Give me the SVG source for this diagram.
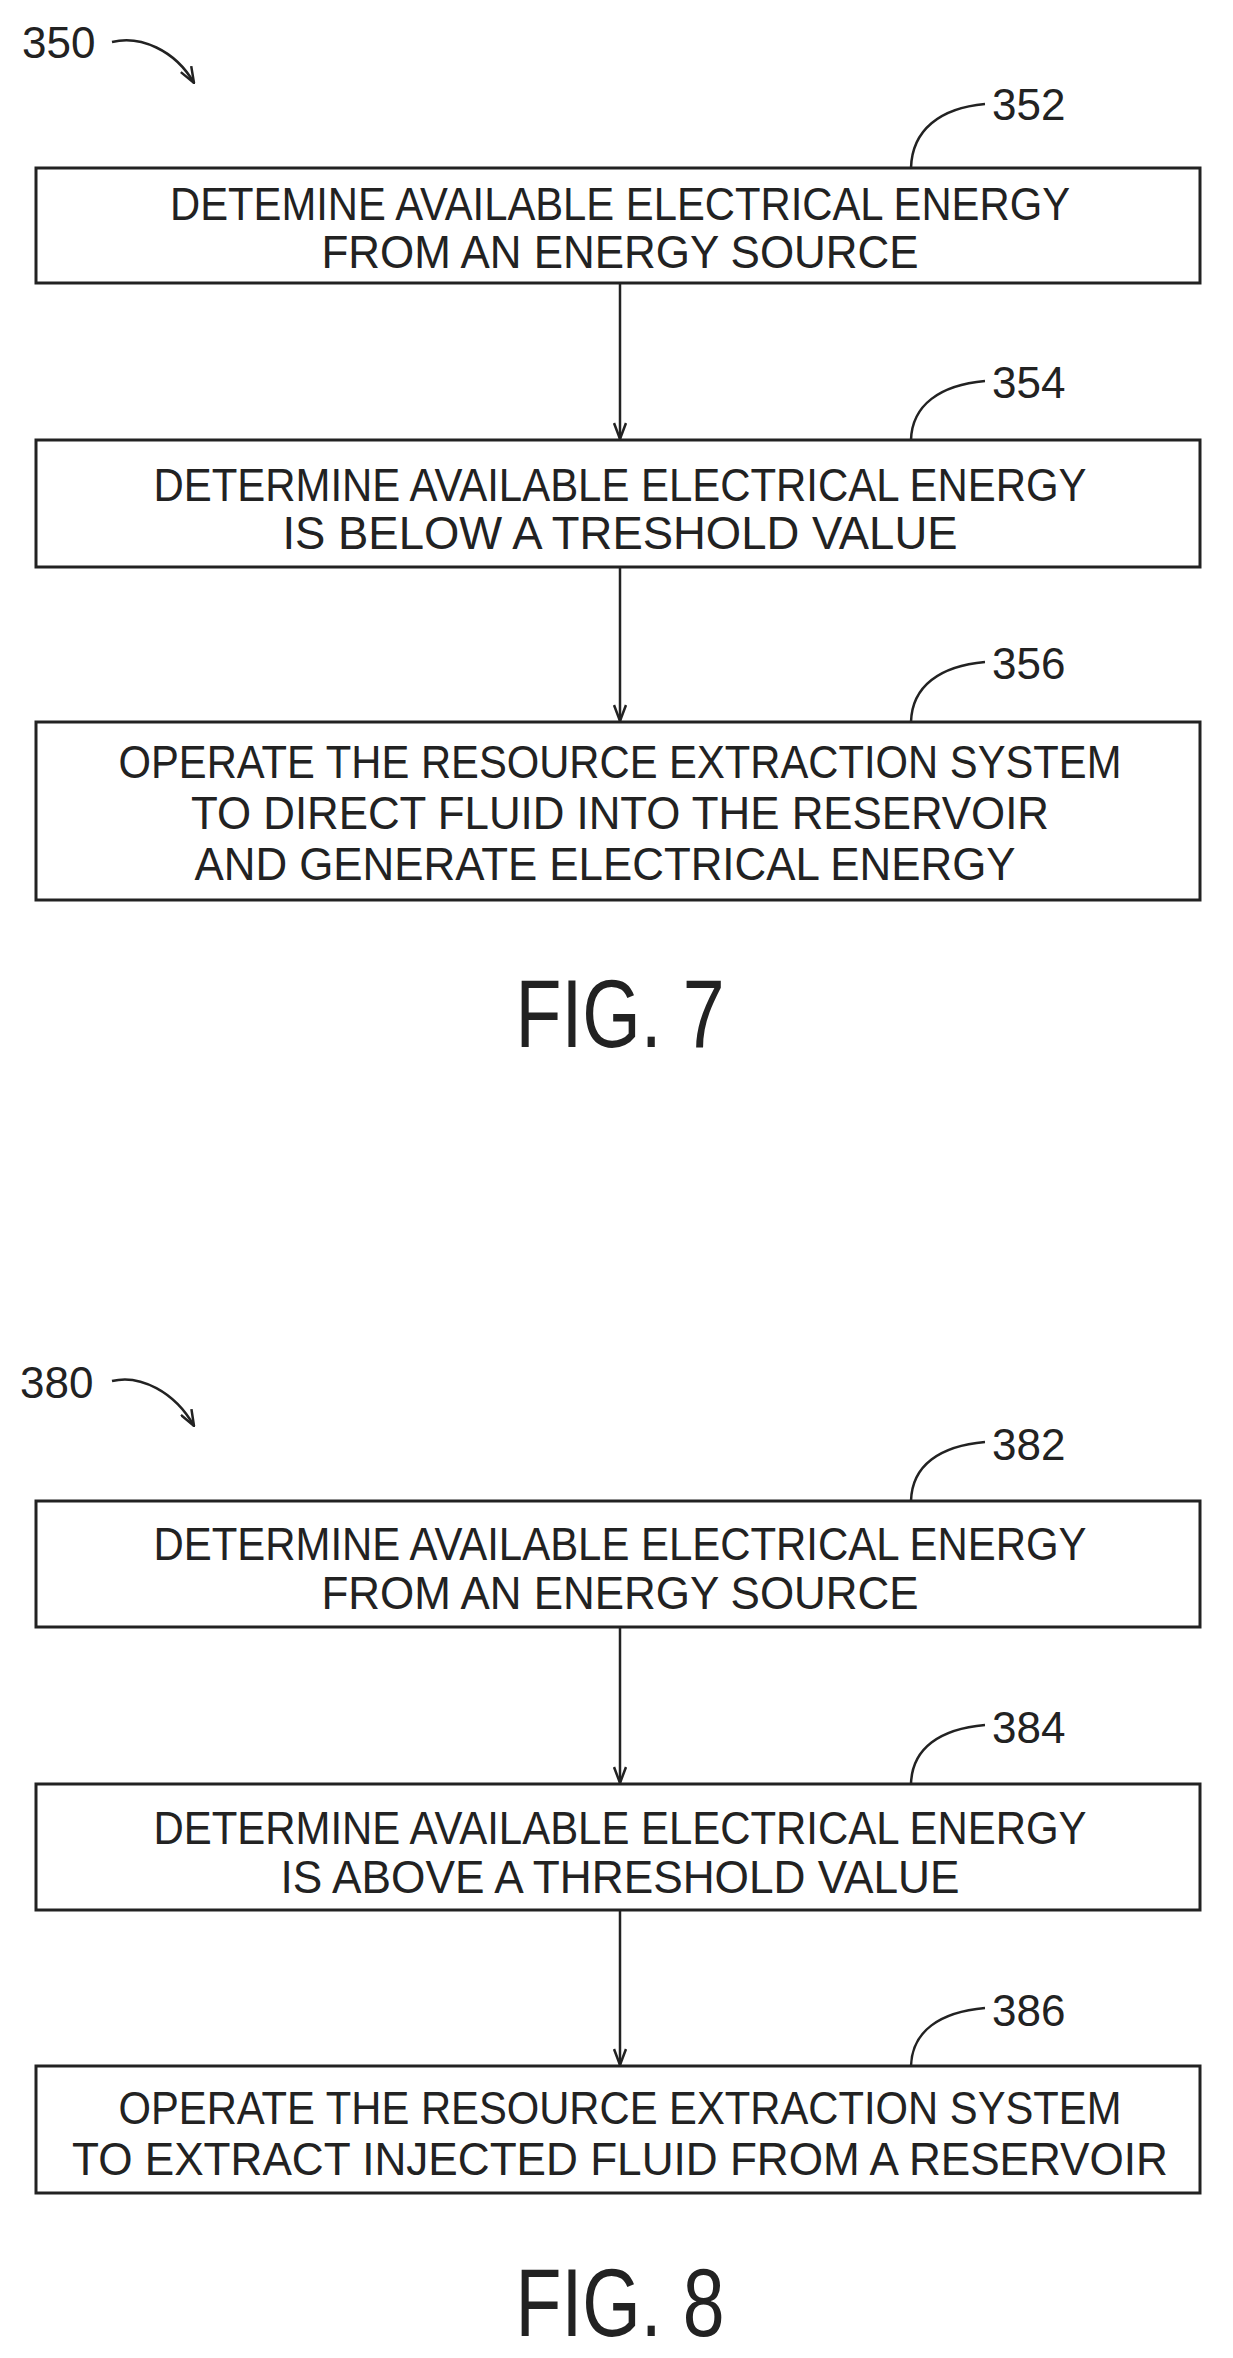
<svg xmlns="http://www.w3.org/2000/svg" width="1233" height="2358" viewBox="0 0 1233 2358">
<style>
.b{fill:#fff;stroke:#222;stroke-width:3}
.t{font-family:"Liberation Sans Narrow","Liberation Sans",sans-serif;font-size:46px;fill:#222;text-anchor:middle}
.n{font-family:"Liberation Sans Narrow","Liberation Sans",sans-serif;font-size:44px;fill:#222}
.f{font-family:"Liberation Sans Narrow","Liberation Sans",sans-serif;font-size:96px;fill:#222;text-anchor:middle}
.c{fill:none;stroke:#222;stroke-width:2.5}
</style>
<defs><marker id="a" markerWidth="18" markerHeight="14" refX="17" refY="7" orient="auto" markerUnits="userSpaceOnUse"><path d="M1,1 L17,7 L1,13" fill="none" stroke="#222" stroke-width="2.5"/></marker></defs>
<g id="connectors">
<line class="c" x1="620" y1="283" x2="620" y2="439" marker-end="url(#a)"/>
<line class="c" x1="620" y1="567" x2="620" y2="721" marker-end="url(#a)"/>
<line class="c" x1="620" y1="1627" x2="620" y2="1783" marker-end="url(#a)"/>
<line class="c" x1="620" y1="1910" x2="620" y2="2065" marker-end="url(#a)"/>
<path class="c" d="M112,42 C140,35 175,50 194,83" marker-end="url(#a)"/>
<path class="c" d="M112,1381 C140,1374 175,1392 194,1426" marker-end="url(#a)"/>
<path class="c" d="M911,168 C912,130 940,108 985,104"/>
<path class="c" d="M911,440 C912,405 940,385 985,381"/>
<path class="c" d="M911,722 C912,686 940,666 985,662"/>
<path class="c" d="M911,1501 C912,1465 940,1446 985,1442"/>
<path class="c" d="M911,1784 C912,1748 940,1729 985,1725"/>
<path class="c" d="M911,2066 C912,2031 940,2012 985,2008"/>
</g>
<text class="n" x="22" y="58">350</text>
<text class="n" x="20" y="1398">380</text>
<g id="n352"><rect class="b" x="36" y="168" width="1164" height="115"/>
<text class="t" x="620" y="220" textLength="900" lengthAdjust="spacingAndGlyphs">DETEMINE  AVAILABLE  ELECTRICAL  ENERGY</text>
<text class="t" x="620" y="268" textLength="597" lengthAdjust="spacingAndGlyphs">FROM  AN  ENERGY SOURCE</text>
<text class="n" x="992" y="120">352</text></g>
<g id="n354"><rect class="b" x="36" y="440" width="1164" height="127"/>
<text class="t" x="620" y="501" textLength="933" lengthAdjust="spacingAndGlyphs">DETERMINE  AVAILABLE  ELECTRICAL  ENERGY</text>
<text class="t" x="620" y="549" textLength="675" lengthAdjust="spacingAndGlyphs">IS BELOW  A TRESHOLD  VALUE</text>
<text class="n" x="992" y="398">354</text></g>
<g id="n356"><rect class="b" x="36" y="722" width="1164" height="178"/>
<text class="t" x="620" y="778" textLength="1003" lengthAdjust="spacingAndGlyphs">OPERATE  THE  RESOURCE  EXTRACTION  SYSTEM</text>
<text class="t" x="620" y="829" textLength="858" lengthAdjust="spacingAndGlyphs">TO  DIRECT FLUID  INTO  THE  RESERVOIR</text>
<text class="t" x="605" y="880" textLength="821" lengthAdjust="spacingAndGlyphs">AND  GENERATE  ELECTRICAL  ENERGY</text>
<text class="n" x="992" y="679">356</text></g>
<text class="f" x="620" y="1047" textLength="209" lengthAdjust="spacingAndGlyphs">FIG. 7</text>
<g id="n382"><rect class="b" x="36" y="1501" width="1164" height="126"/>
<text class="t" x="620" y="1560" textLength="933" lengthAdjust="spacingAndGlyphs">DETERMINE  AVAILABLE  ELECTRICAL  ENERGY</text>
<text class="t" x="620" y="1609" textLength="597" lengthAdjust="spacingAndGlyphs">FROM  AN  ENERGY SOURCE</text>
<text class="n" x="992" y="1460">382</text></g>
<g id="n384"><rect class="b" x="36" y="1784" width="1164" height="126"/>
<text class="t" x="620" y="1844" textLength="933" lengthAdjust="spacingAndGlyphs">DETERMINE  AVAILABLE  ELECTRICAL  ENERGY</text>
<text class="t" x="620" y="1893" textLength="679" lengthAdjust="spacingAndGlyphs">IS ABOVE A THRESHOLD  VALUE</text>
<text class="n" x="992" y="1743">384</text></g>
<g id="n386"><rect class="b" x="36" y="2066" width="1164" height="127"/>
<text class="t" x="620" y="2124" textLength="1003" lengthAdjust="spacingAndGlyphs">OPERATE  THE  RESOURCE  EXTRACTION  SYSTEM</text>
<text class="t" x="620" y="2175" textLength="1096" lengthAdjust="spacingAndGlyphs">TO  EXTRACT INJECTED  FLUID  FROM  A  RESERVOIR</text>
<text class="n" x="992" y="2026">386</text></g>
<text class="f" x="620" y="2336" textLength="209" lengthAdjust="spacingAndGlyphs">FIG. 8</text>
</svg>
